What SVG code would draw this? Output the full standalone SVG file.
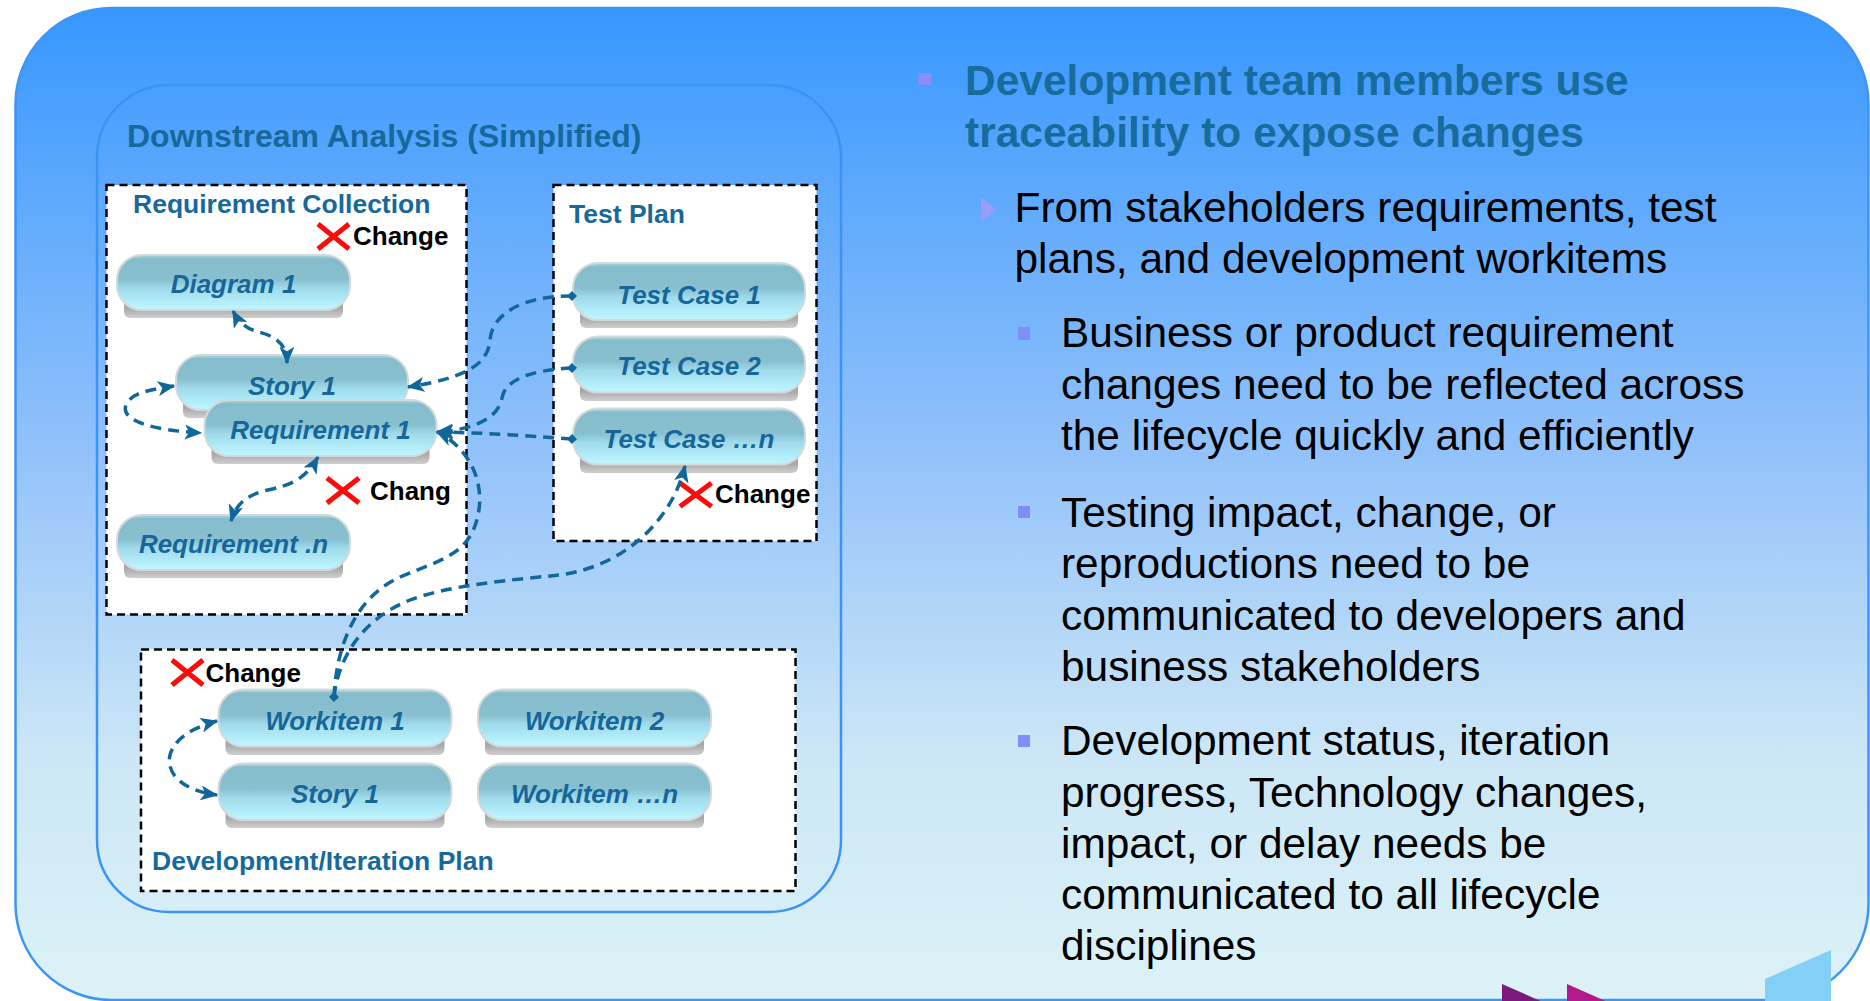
<svg xmlns="http://www.w3.org/2000/svg" width="1870" height="1001" viewBox="0 0 1870 1001">
<defs>
<linearGradient id="bg" x1="0" y1="0" x2="0" y2="1">
<stop offset="0" stop-color="#3797ff"/>
<stop offset="0.45" stop-color="#93c2fa"/>
<stop offset="0.75" stop-color="#cbe6f6"/>
<stop offset="1" stop-color="#dcf2f6"/>
</linearGradient>
<linearGradient id="pillFill" x1="0" y1="0" x2="0" y2="1">
<stop offset="0" stop-color="#b0dbe6"/>
<stop offset="0.07" stop-color="#85bccb"/>
<stop offset="0.45" stop-color="#88c0d0"/>
<stop offset="0.6" stop-color="#9fdaea"/>
<stop offset="0.88" stop-color="#b5effb"/>
<stop offset="1" stop-color="#c2f6ff"/>
</linearGradient>
<linearGradient id="shadowFill" x1="0" y1="0" x2="0" y2="1">
<stop offset="0" stop-color="#9a9a9a"/>
<stop offset="0.7" stop-color="#a8a8a8"/>
<stop offset="1" stop-color="#cfcfcf"/>
</linearGradient>
<marker id="arr" viewBox="0 0 14 12" refX="13" refY="6" markerWidth="18" markerHeight="15" markerUnits="userSpaceOnUse" orient="auto-start-reverse">
<path d="M0,0 L14,6 L0,12 L3.5,6 z" fill="#11669a"/>
</marker>
<marker id="dia" viewBox="0 0 10 10" refX="5" refY="5" markerWidth="10" markerHeight="10" markerUnits="userSpaceOnUse" orient="auto">
<path d="M0,5 L5,0 L10,5 L5,10 z" fill="#11669a"/>
</marker>
<style>
.pill { fill: url(#pillFill); stroke: #d3d9db; stroke-width: 2; }
.shadow { fill: url(#shadowFill); }
.nt { font-family: "Liberation Sans", Arial, sans-serif; font-size: 26px; font-weight: bold; font-style: italic; fill: #17669a; text-anchor: middle; }
.box { fill: #ffffff; stroke: #000000; stroke-width: 2.5; stroke-dasharray: 8 5; }
.lbl { font-family: "Liberation Sans", Arial, sans-serif; font-size: 26.5px; font-weight: bold; fill: #17699b; }
.chg { font-family: "Liberation Sans", Arial, sans-serif; font-size: 26px; font-weight: bold; fill: #000000; }
.x { stroke: #ff0a0a; stroke-width: 5; fill: none; }
.conn { fill: none; stroke: #11669a; stroke-width: 3.5; stroke-dasharray: 11 7; }
.head { font-family: "Liberation Sans", Arial, sans-serif; font-size: 42.5px; font-weight: bold; fill: #186c9c; }
.body { font-family: "Liberation Sans", Arial, sans-serif; font-size: 42.4px; fill: #000000; }
.b1 { fill: #8b8ff4; }
.b3 { fill: #7f8ff5; }
</style>
</defs>

<!-- background -->
<rect x="15.5" y="8" width="1853" height="992" rx="96" ry="96" fill="url(#bg)" stroke="#3d95f5" stroke-width="2.5"/>
<rect x="97" y="85" width="744" height="827" rx="72" ry="72" fill="none" stroke="#3b93f3" stroke-width="2.5"/>
<text x="127" y="147" font-family="'Liberation Sans', Arial, sans-serif" font-size="32" font-weight="bold" fill="#17699b">Downstream Analysis (Simplified)</text>

<!-- containers -->
<g id="requirement-collection">
<rect class="box" x="106.5" y="185" width="360" height="429.5"/>
<text class="lbl" x="133" y="212.5">Requirement Collection</text>
<path class="x" d="M318,224 L349,249 M349,224 L318,249"/>
<text class="chg" x="353" y="245">Change</text>
<path class="x" d="M327,478 L359,503 M359,478 L327,503"/>
<text class="chg" x="370" y="500">Chang</text>
</g>
<g id="test-plan">
<rect class="box" x="553.5" y="185" width="263" height="356"/>
<text class="lbl" x="569" y="222.5">Test Plan</text>
<path class="x" d="M680,483 L711.5,506.5 M711.5,483 L680,506.5"/>
<text class="chg" x="715" y="503">Change</text>
</g>
<g id="dev-plan">
<rect class="box" x="141" y="649.5" width="654.5" height="241.5"/>
<text class="lbl" x="152" y="870">Development/Iteration Plan</text>
<path class="x" d="M172,660 L203,685 M203,660 L172,685"/>
<text class="chg" x="205.5" y="681.5">Change</text>
</g>

<!-- nodes -->
<g id="diagram-1">
<rect class="shadow" x="124" y="285" width="219" height="33" rx="6"/>
<rect class="pill" x="117" y="255" width="233" height="55" rx="25"/>
<text class="nt" x="233.5" y="293">Diagram 1</text>
</g>
<g id="story-1-top">
<rect class="shadow" x="183" y="385" width="218" height="33" rx="6"/>
<rect class="pill" x="176" y="355" width="232" height="55" rx="25"/>
<text class="nt" x="292" y="395">Story 1</text>
</g>
<g id="requirement-1">
<rect class="shadow" x="211.5" y="430" width="218" height="34" rx="6"/>
<rect class="pill" x="204.5" y="400" width="232" height="56" rx="25"/>
<text class="nt" x="320.5" y="439">Requirement 1</text>
</g>
<g id="requirement-n">
<rect class="shadow" x="124" y="545" width="219" height="33" rx="6"/>
<rect class="pill" x="117" y="515" width="233" height="55" rx="25"/>
<text class="nt" x="233.5" y="553">Requirement .n</text>
</g>
<g id="test-case-1">
<rect class="shadow" x="580" y="295" width="218" height="33" rx="6"/>
<rect class="pill" x="573" y="263" width="232" height="57" rx="25"/>
<text class="nt" x="689" y="303.5">Test Case 1</text>
</g>
<g id="test-case-2">
<rect class="shadow" x="580" y="368" width="218" height="33" rx="6"/>
<rect class="pill" x="573" y="336.5" width="232" height="56" rx="25"/>
<text class="nt" x="689" y="375">Test Case 2</text>
</g>
<g id="test-case-n">
<rect class="shadow" x="580" y="440" width="218" height="33" rx="6"/>
<rect class="pill" x="573" y="408.5" width="232" height="56" rx="25"/>
<text class="nt" x="689" y="447.5">Test Case …n</text>
</g>
<g id="workitem-1">
<rect class="shadow" x="225.5" y="721" width="219" height="34" rx="6"/>
<rect class="pill" x="218.5" y="689.5" width="233" height="57" rx="25"/>
<text class="nt" x="335" y="729.5">Workitem 1</text>
</g>
<g id="workitem-2">
<rect class="shadow" x="485" y="721" width="219" height="34" rx="6"/>
<rect class="pill" x="478" y="689.5" width="233" height="57" rx="25"/>
<text class="nt" x="594.5" y="729.5">Workitem 2</text>
</g>
<g id="story-1-bottom">
<rect class="shadow" x="225.5" y="795" width="219" height="33" rx="6"/>
<rect class="pill" x="218.5" y="763.5" width="233" height="56.5" rx="25"/>
<text class="nt" x="335" y="803">Story 1</text>
</g>
<g id="workitem-n">
<rect class="shadow" x="485" y="795" width="219" height="33" rx="6"/>
<rect class="pill" x="478" y="763.5" width="233" height="56.5" rx="25"/>
<text class="nt" x="594.5" y="803">Workitem …n</text>
</g>

<!-- connectors -->
<g id="connectors">
<path class="conn" marker-start="url(#arr)" marker-end="url(#arr)" d="M233,311 C244,332 256,330 268,335 C282,341 287,350 287,363"/>
<path class="conn" marker-start="url(#arr)" marker-end="url(#arr)" d="M174,386 C150,390 132,392 126,405 C120,420 150,430 201,433"/>
<path class="conn" marker-start="url(#arr)" marker-end="url(#arr)" d="M318,457 C305,480 290,485 268,490 C245,495 236,505 231,521"/>
<path class="conn" marker-start="url(#dia)" marker-end="url(#arr)" d="M572,296 C520,296 492,315 490,340 C488,365 465,378 408,387"/>
<path class="conn" marker-start="url(#dia)" marker-end="url(#arr)" d="M572,368 C530,370 505,380 502,398 C498,420 470,430 437,432"/>
<path class="conn" marker-start="url(#dia)" marker-end="url(#arr)" d="M572,439 C540,437 500,433 437,432"/>
<path class="conn" marker-start="url(#dia)" marker-end="url(#arr)" d="M334,697 C336,655 350,600 400,577 C440,560 470,555 478,515 C486,478 465,445 437,432"/>
<path class="conn" marker-end="url(#arr)" d="M334,697 C338,660 360,620 410,600 C450,585 510,580 560,575 C625,566 672,520 685,466"/>
<path class="conn" marker-start="url(#arr)" marker-end="url(#arr)" d="M217,721 C195,727 175,737 170,755 C166,772 180,790 217,795"/>
</g>

<!-- right text -->
<g id="bullets">
<rect class="b1" x="918.5" y="73" width="13" height="12"/>
<text class="head" x="965" y="95">Development team members use</text>
<text class="head" x="965" y="147">traceability to expose changes</text>
<polygon points="981,197 996,209.5 981,222" fill="#9a9cf6"/>
<text class="body" x="1014.5" y="222">From stakeholders requirements, test</text>
<text class="body" x="1014.5" y="273">plans, and development workitems</text>
<rect class="b3" x="1018" y="327" width="12" height="13"/>
<text class="body" x="1061" y="347">Business or product requirement</text>
<text class="body" x="1061" y="398.5">changes need to be reflected across</text>
<text class="body" x="1061" y="450">the lifecycle quickly and efficiently</text>
<rect class="b3" x="1018" y="506" width="12" height="12"/>
<text class="body" x="1061" y="527">Testing impact, change, or</text>
<text class="body" x="1061" y="578">reproductions need to be</text>
<text class="body" x="1061" y="629.5">communicated to developers and</text>
<text class="body" x="1061" y="680.5">business stakeholders</text>
<rect class="b3" x="1018" y="735" width="12" height="12"/>
<text class="body" x="1061" y="755">Development status, iteration</text>
<text class="body" x="1061" y="806.5">progress, Technology changes,</text>
<text class="body" x="1061" y="858">impact, or delay needs be</text>
<text class="body" x="1061" y="909">communicated to all lifecycle</text>
<text class="body" x="1061" y="960">disciplines</text>
</g>

<!-- bottom decorations -->
<polygon points="1502,984 1545,1003 1502,1022" fill="#7b1a7d"/>
<polygon points="1567,984 1610,1003 1567,1022" fill="#b01a8c"/>
<polygon points="1765,979 1831,950 1831,1010 1765,1010" fill="#84cff6"/>
</svg>
